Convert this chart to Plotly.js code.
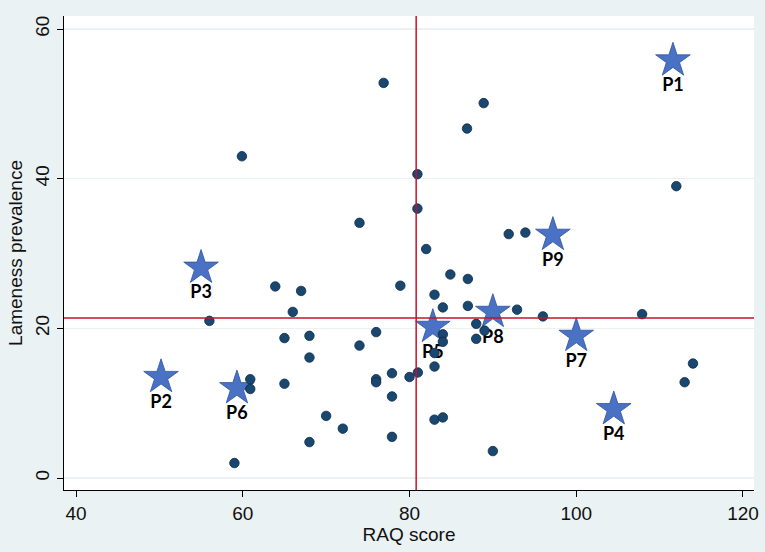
<!DOCTYPE html>
<html>
<head>
<meta charset="utf-8">
<script src="https://cdn.plot.ly/plotly-3.0.1.min.js"></script>
<style>html,body{margin:0;padding:0;background:#eaf2f3;}#chart{width:765px;height:552px;}</style>
</head>
<body>
<div id="chart"></div>
<script>
// Farm data points (RAQ score vs lameness prevalence)
const farmRAQ = [59.9, 80.95, 80.95, 74.0, 82.0, 84.9, 87.0, 63.9, 67.0, 78.9, 83.0, 84.0, 87.0, 66.0, 56.0,
  92.9, 96.0, 107.9, 88.0, 89.0, 84.0, 84.0, 88.0, 65.0, 68.0, 76.0, 74.0, 68.0, 83.0, 83.0,
  77.9, 80.0, 81.0, 76.0, 76.0, 77.9, 60.9, 60.9, 65.0, 70.0, 72.0, 68.0, 77.9, 83.0, 84.0,
  59.0, 90.0, 112.0, 114.0, 113.0, 91.9, 93.9, 76.9, 88.9, 86.9];
const farmLameness = [43.0, 40.6, 36.0, 34.1, 30.6, 27.2, 26.6, 25.6, 25.0, 25.7, 24.5, 22.8, 23.0, 22.2, 21.0,
  22.5, 21.6, 21.9, 20.6, 19.7, 19.2, 18.2, 18.6, 18.7, 19.0, 19.5, 17.7, 16.1, 16.7, 14.9,
  14.0, 13.5, 14.1, 13.2, 12.8, 10.9, 13.2, 11.9, 12.6, 8.3, 6.6, 4.8, 5.5, 7.8, 8.1,
  2.0, 3.6, 39.0, 15.3, 12.8, 32.6, 32.8, 52.8, 50.1, 46.7];

// Highlighted farms
const farmLabels = ["P1", "P2", "P3", "P4", "P5", "P6", "P7", "P8", "P9"];
const labelRAQ = [111.6, 50.2, 55.0, 104.5, 82.8, 59.3, 100.0, 90.0, 97.2];
const labelLameness = [55.8, 13.5, 28.1, 9.2, 20.2, 12.0, 19.0, 22.2, 32.5];

// Reference lines (means)
const meanRAQ = 80.8;
const meanLameness = 21.4;

const xTicks = [40, 60, 80, 100, 120];
const yTicks = [0, 20, 40, 60];

const stars = {
  x: labelRAQ, y: labelLameness, text: farmLabels,
  mode: 'markers+text', type: 'scatter',
  textposition: 'bottom center',
  textfont: {family: 'Lato, "Liberation Sans", sans-serif', size: 18, color: '#000', weight: 'bold'},
  marker: {symbol: 'star', size: 26, color: '#4a72c4', line: {color: '#2f52a0', width: 0.8}},
  hoverinfo: 'skip', cliponaxis: false
};
const dots = {
  x: farmRAQ, y: farmLameness, mode: 'markers', type: 'scatter',
  marker: {symbol: 'circle', size: 9.5, color: '#1a476f', line: {color: '#0e2c48', width: 0.8}},
  hoverinfo: 'skip'
};

const layout = {
  width: 765, height: 552,
  paper_bgcolor: '#eaf2f3', plot_bgcolor: '#ffffff',
  margin: {l: 64, r: 11, t: 16, b: 62},
  showlegend: false,
  font: {family: '"Liberation Sans", Arial, sans-serif', size: 19, color: '#111'},
  xaxis: {
    range: [38.56, 121.32], tickvals: xTicks, ticktext: xTicks.map(String),
    showgrid: false, zeroline: false, showline: true, linecolor: '#000', linewidth: 1,
    ticks: 'outside', ticklen: 6, tickcolor: '#000', tickfont: {size: 19},
    title: {text: 'RAQ score', font: {size: 19}, standoff: 2}
  },
  yaxis: {
    range: [-1.6, 61.74], tickvals: yTicks, ticktext: yTicks.map(String),
    showgrid: true, gridcolor: '#eaf2f3', gridwidth: 1.5, zeroline: false,
    showline: true, linecolor: '#000', linewidth: 1,
    ticks: 'outside', ticklen: 6, tickcolor: '#000', tickangle: -90, tickfont: {size: 19},
    title: {text: 'Lameness prevalence', font: {size: 19}, standoff: 4}
  },
  shapes: [
    {type: 'line', xref: 'x', yref: 'paper', x0: meanRAQ, x1: meanRAQ, y0: 0, y1: 1, line: {color: '#c8102e', width: 1.5}},
    {type: 'line', xref: 'paper', yref: 'y', x0: 0, x1: 1, y0: meanLameness, y1: meanLameness, line: {color: '#c8102e', width: 1.5}}
  ]
};

Plotly.newPlot('chart', [stars, dots], layout, {displayModeBar: false, staticPlot: true});
</script>
</body>
</html>
